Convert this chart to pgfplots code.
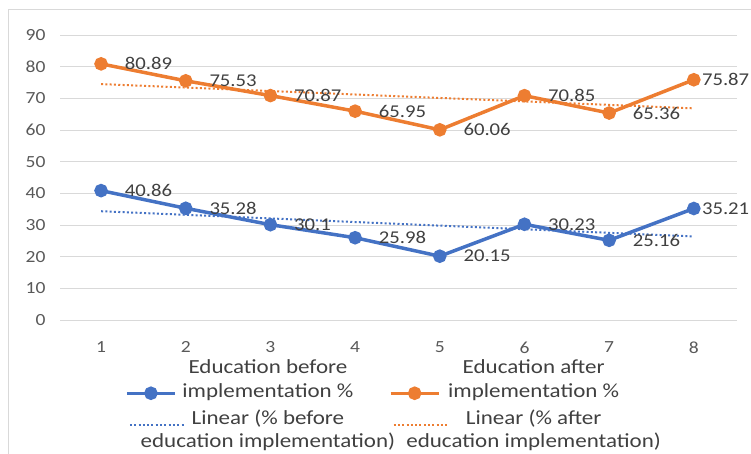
\documentclass[border=0pt]{standalone}
\usepackage{pgfplots}
\pgfplotsset{compat=1.18}
\usepackage{fontspec}
\setmainfont{Carlito}[FakeStretch=1.15]
\definecolor{cblue}{HTML}{4472C4}
\definecolor{corange}{HTML}{ED7D31}
\definecolor{gridc}{HTML}{D9D9D9}
\definecolor{tickc}{HTML}{595959}
\definecolor{labc}{HTML}{404040}
\newcommand{\lgd}[4]{\begin{tabular}[#1]{@{}c@{}}\makebox[#2][c]{#3}\\\makebox[#2][c]{#4}\end{tabular}}
\pgfplotsset{
  solidleg/.style={legend image code/.code={\draw[##1, mark repeat=2, mark phase=2, yshift=-15bp] plot coordinates {(0bp,0bp)(24bp,0bp)(48bp,0bp)};}},
  dotleg/.style={legend image code/.code={\draw[##1, yshift=-8bp] (3bp,0bp) -- (58bp,0bp);}},
}
\begin{document}
\begin{tikzpicture}
\useasboundingbox (0,0) rectangle (751bp,454bp);
\draw[gridc, line width=1bp] (8bp,-10bp) rectangle (770bp,444bp);
\begin{axis}[
  at={(60bp,134bp)}, anchor=south west,
  scale only axis, width=677bp, height=285bp,
  xmin=0.515, xmax=8.51, ymin=0, ymax=90,
  xtick={1,2,3,4,5,6,7,8}, ytick={0,10,20,30,40,50,60,70,80,90},
  ymajorgrids, grid style={gridc, line width=1bp},
  axis line style={draw=none},
  major tick length=0pt,
  tick label style={font=\fontsize{17bp}{20bp}\selectfont, text=tickc},
  /pgf/number format/assume math mode=true,
  xticklabel style={yshift=-18bp},
  yticklabel style={xshift=-11bp},
  clip=false,
  legend columns=2,
  legend style={at={(0.096,-0.124)}, anchor=north west, draw=none, fill=none,
    font=\fontsize{20bp}{23.5bp}\selectfont, text=labc,
    inner sep=0pt, row sep=5bp,
    /tikz/every odd column/.append style={column sep=2bp},
    /tikz/every even column/.append style={column sep=41bp}},
  point meta=explicit symbolic,
  every node near coord/.append style={font=\fontsize{18bp}{21bp}\selectfont, text=labc, inner sep=1bp},
  nodes near coords align={anchor=west},
]
\addplot[cblue, line width=3.5bp, mark=*, mark size=5bp, mark options={solid, fill=cblue},
  nodes near coords, every node near coord/.append style={xshift=21bp}, solidleg]
  coordinates {(1,40.86)[40.86] (2,35.28)[35.28] (3,30.1)[30.1] (4,25.98)[25.98]
               (5,20.15)[20.15] (6,30.23)[30.23] (7,25.16)[25.16] (8,35.21)[]};
\addlegendentry{\lgd{b}{156bp}{Education before}{implementation \%}}
\addplot[corange, line width=3.5bp, mark=*, mark size=5bp, mark options={solid, fill=corange},
  nodes near coords, every node near coord/.append style={xshift=21bp}, solidleg]
  coordinates {(1,80.89)[80.89] (2,75.53)[75.53] (3,70.87)[70.87] (4,65.95)[65.95]
               (5,60.06)[60.06] (6,70.85)[70.85] (7,65.36)[65.36] (8,75.87)[]};
\addlegendentry{\lgd{b}{160bp}{Education after}{implementation \%}}
\addplot[cblue, line width=2bp, dash pattern=on 2bp off 2.3bp, mark=none, dotleg]
  coordinates {(1,34.35) (8,26.39)};
\addlegendentry{\lgd{t}{156bp}{Linear (\% before}{education implementation)}}
\addplot[corange, line width=2bp, dash pattern=on 2bp off 2.3bp, mark=none, dotleg]
  coordinates {(1,74.50) (8,66.84)};
\addlegendentry{\lgd{t}{160bp}{Linear (\% after}{education implementation)}}
\addplot[draw=none, mark=none, nodes near coords, forget plot,
  every node near coord/.append style={xshift=7bp}]
  coordinates {(8,35.21)[35.21] (8,75.87)[75.87]};
\end{axis}
\end{tikzpicture}
\end{document}
